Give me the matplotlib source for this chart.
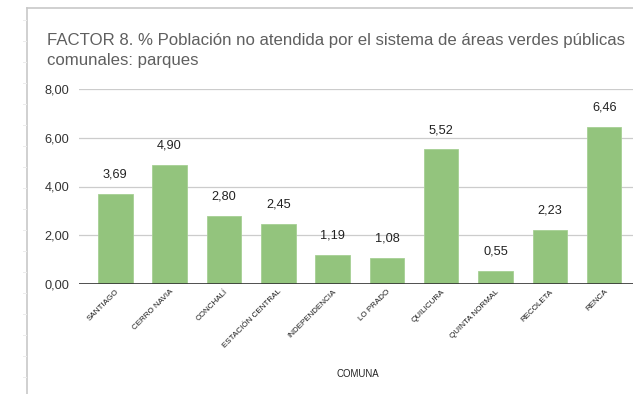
import matplotlib
matplotlib.use("Agg")
import matplotlib.pyplot as plt
from matplotlib.lines import Line2D

comunas = ["SANTIAGO", "CERRO NAVIA", "CONCHALÍ", "ESTACIÓN CENTRAL", "INDEPENDENCIA",
           "LO PRADO", "QUILICURA", "QUINTA NORMAL", "RECOLETA", "RENCA"]
valores = [3.69, 4.90, 2.80, 2.45, 1.19, 1.08, 5.52, 0.55, 2.23, 6.46]
y_ticks = [0, 2, 4, 6, 8]

plt.rcParams["font.family"] = ["Liberation Sans", "DejaVu Sans"]

W, H = 633, 394
fig = plt.figure(figsize=(W / 100, H / 100), dpi=100)

# outer frame of the chart panel
fig.add_artist(Line2D([27 / W, 27 / W], [0, 1 - 8 / H], color="#c8c8c8", lw=1.2, transform=fig.transFigure))
fig.add_artist(Line2D([27 / W, 1], [1 - 8 / H, 1 - 8 / H], color="#c8c8c8", lw=1.2, transform=fig.transFigure))
for yy in range(20, 394, 21):
    fig.add_artist(Line2D([23 / W, 26 / W], [1 - yy / H, 1 - yy / H], color="#ececec", lw=0.7,
                          transform=fig.transFigure))

fig.text(47 / W, 1 - 40 / H, "FACTOR 8. % Población no atendida por el sistema de áreas verdes públicas",
         fontsize=12.1, color="#5f5f5f", va="center", ha="left")
fig.text(47 / W, 1 - 60 / H, "comunales: parques", fontsize=12.1, color="#5f5f5f", va="center", ha="left")

left, right = 79 / W, 1.0
bottom, top = 1 - 284 / H, 1 - 89 / H
ax = fig.add_axes([left, bottom, right - left, top - bottom])

x = list(range(len(comunas)))
bars = ax.bar(x, valores, width=0.635, color="#93c47d", edgecolor="#a6d094", linewidth=0.6, zorder=3)
for xi, v in zip(x, valores):
    ax.text(xi, v + 0.55, f"{v:.2f}".replace(".", ","), ha="center", va="bottom",
            fontsize=9.2, color="#222222")

ax.set_xlim(-0.668, 9.53)
ax.set_ylim(0, 8)
ax.set_yticks(y_ticks)
ax.set_yticklabels([f"{t:.2f}".replace(".", ",") for t in y_ticks], fontsize=9.2, color="#333333")
ax.yaxis.grid(True, color="#cccccc", lw=0.9, zorder=0)
ax.axhline(0, color="#333333", lw=1.2, zorder=4)
for s in ax.spines.values():
    s.set_visible(False)
ax.tick_params(axis="y", length=0, pad=7)
ax.tick_params(axis="x", length=0, pad=3)
ax.set_xticks(x)
ax.set_xticklabels(comunas, rotation=45, ha="right", rotation_mode="anchor", fontsize=5.8, color="#1a1a1a")

fig.text(358 / W, 1 - 374 / H, "COMUNA", fontsize=6.9, color="#222222", ha="center", va="center")

fig.savefig("out.png", dpi=100)
